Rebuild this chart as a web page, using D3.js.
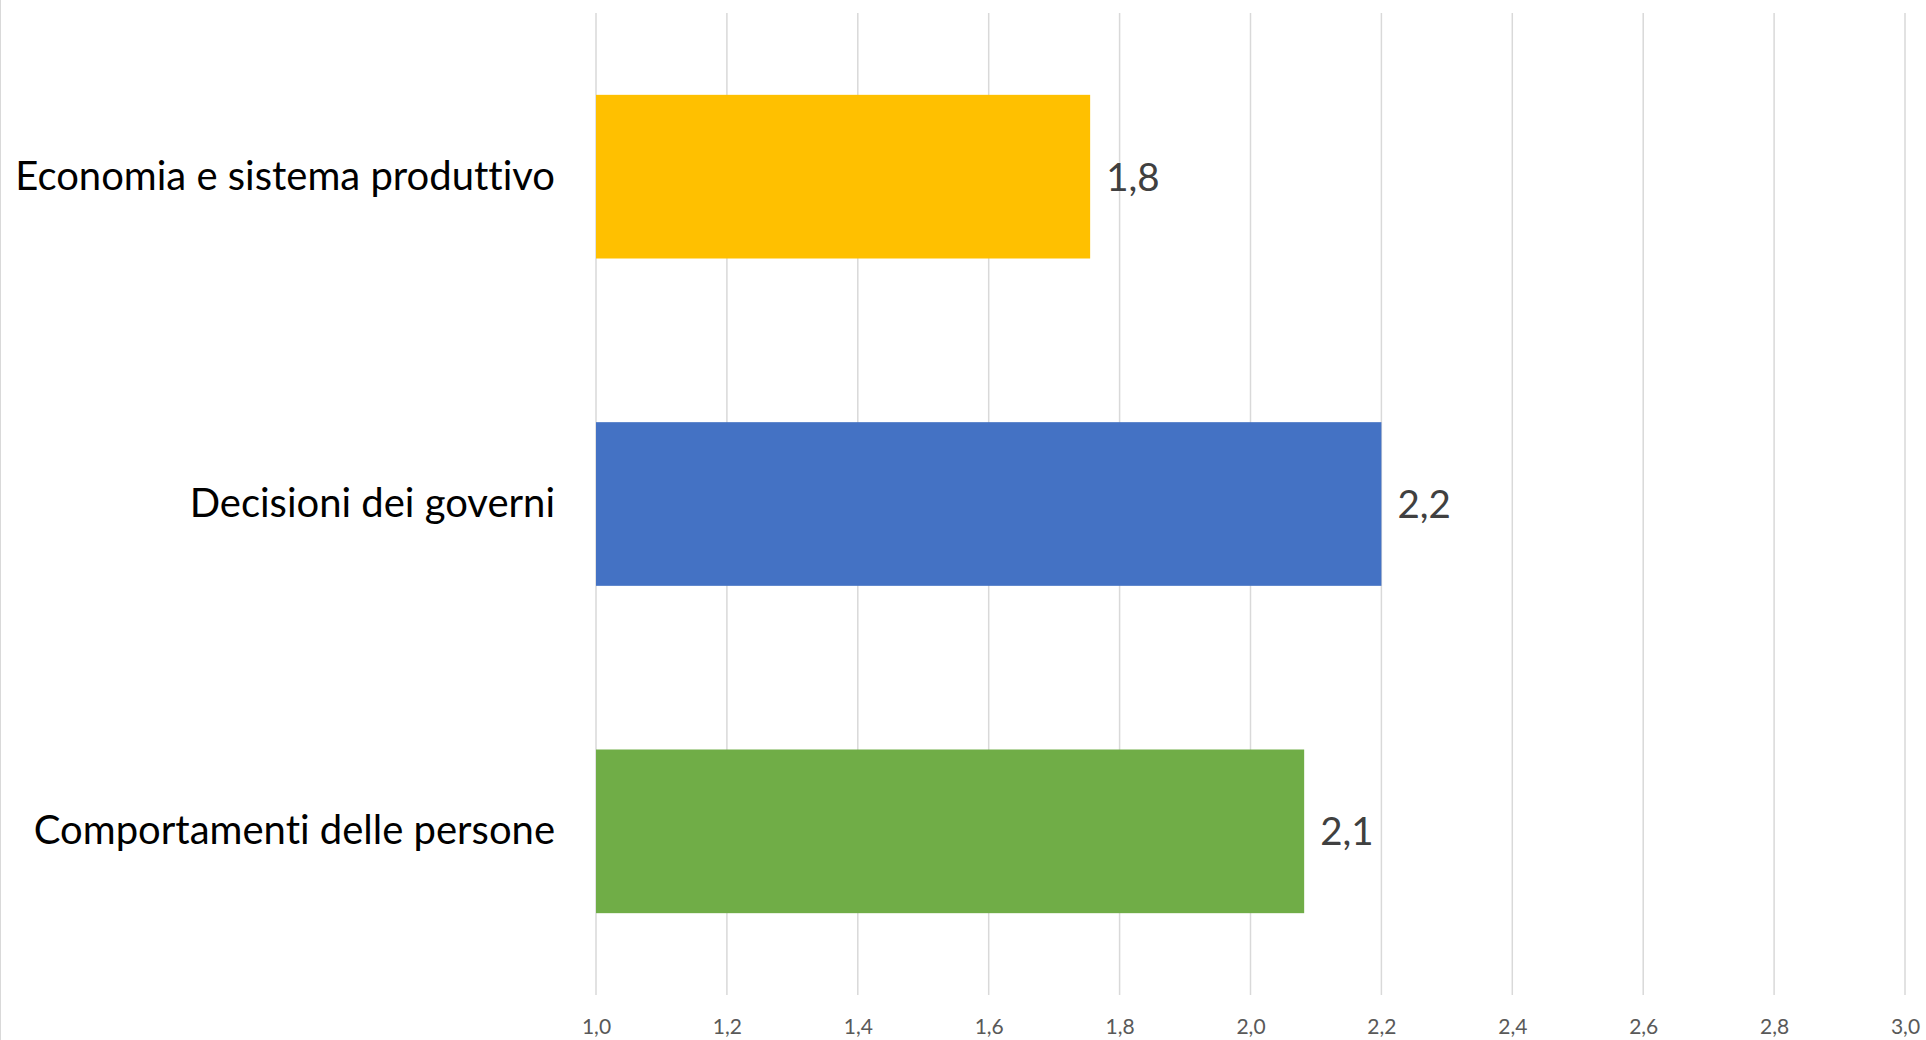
<!DOCTYPE html>
<html>
<head>
<meta charset="utf-8">
<script src="https://cdn.jsdelivr.net/npm/d3@7"></script>
<style>
  body { margin: 0; background: #fff; }
  svg { display: block; }
  text { font-variant-ligatures: none; font-feature-settings: "liga" 0; }
</style>
</head>
<body>
<div id="chart"></div>
<script>
var svgWidth = 1926;
var svgHeight = 1040;

// chart data
var categories = ["Economia e sistema produttivo", "Decisioni dei governi", "Comportamenti delle persone"];
var values = [1.755, 2.20, 2.082];
var barColors = ["#FFC000", "#4472C4", "#70AD47"];
var xTicks = [1.0, 1.2, 1.4, 1.6, 1.8, 2.0, 2.2, 2.4, 2.6, 2.8, 3.0];

var margin = { top: 13, right: 21, bottom: 45, left: 596 };
var width = svgWidth - margin.left - margin.right;
var height = svgHeight - margin.top - margin.bottom;

var comma = d3.format(".1f");
var fmt = function(v) { return comma(v).replace(".", ","); };

var svg = d3.select("#chart")
  .append("svg")
  .attr("width", svgWidth)
  .attr("height", svgHeight);

// outer frame line on the left
svg.append("line")
  .attr("x1", 0.5).attr("x2", 0.5)
  .attr("y1", 0).attr("y2", svgHeight)
  .attr("stroke", "#d9d9d9");

var chartGroup = svg.append("g")
  .attr("transform", `translate(${margin.left}, ${margin.top})`);

var xScale = d3.scaleLinear()
  .domain([1.0, 3.0])
  .range([0, width]);

var yScale = d3.scaleBand()
  .domain(categories)
  .range([0, height])
  .paddingInner(0.5)
  .paddingOuter(0.25);

// gridlines
chartGroup.append("g")
  .selectAll("line")
  .data(xTicks)
  .enter()
  .append("line")
  .attr("x1", d => xScale(d))
  .attr("x2", d => xScale(d))
  .attr("y1", 0)
  .attr("y2", height)
  .attr("stroke", "#d9d9d9")
  .attr("stroke-width", 1.5);

// bottom axis labels only
var bottomAxis = d3.axisBottom(xScale)
  .tickValues(xTicks)
  .tickSize(0)
  .tickPadding(0)
  .tickFormat(fmt);

var axisG = chartGroup.append("g")
  .attr("transform", `translate(0, ${height})`)
  .call(bottomAxis);
axisG.select(".domain").remove();
axisG.selectAll("text")
  .attr("y", 39)
  .attr("dy", null)
  .attr("font-family", "Lato, sans-serif")
  .attr("font-size", 21)
  .attr("fill", "#595959");

// bars
chartGroup.selectAll("rect.bar")
  .data(categories)
  .enter()
  .append("rect")
  .attr("class", "bar")
  .attr("x", xScale(1.0))
  .attr("y", d => yScale(d))
  .attr("width", (d, i) => xScale(values[i]) - xScale(1.0))
  .attr("height", yScale.bandwidth())
  .attr("fill", (d, i) => barColors[i]);

// value labels
chartGroup.selectAll("text.val")
  .data(categories)
  .enter()
  .append("text")
  .attr("class", "val")
  .attr("x", (d, i) => xScale(values[i]) + 16)
  .attr("y", d => yScale(d) + yScale.bandwidth() / 2 + 14)
  .attr("font-family", "Lato, sans-serif")
  .attr("font-size", 38.5)
  .attr("fill", "#404040")
  .text((d, i) => fmt(values[i]));

// category labels
chartGroup.selectAll("text.cat")
  .data(categories)
  .enter()
  .append("text")
  .attr("class", "cat")
  .attr("x", -41)
  .attr("y", d => yScale(d) + yScale.bandwidth() / 2 + 13)
  .attr("text-anchor", "end")
  .attr("font-family", "Lato, sans-serif")
  .attr("font-size", 40)
  .attr("fill", "#000")
  .text(d => d);
</script>
</body>
</html>
